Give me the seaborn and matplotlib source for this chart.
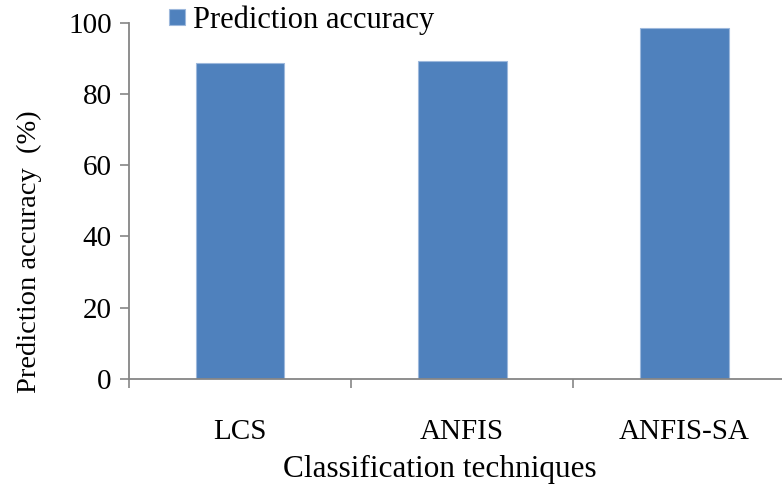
import seaborn as sns
import matplotlib.pyplot as plt
import pandas as pd

# values
techniques = ["LCS", "ANFIS", "ANFIS-SA"]
accuracy = [88.6, 89.2, 98.4]
y_ticks = [0, 20, 40, 60, 80, 100]

df = pd.DataFrame({"technique": techniques, "accuracy": accuracy})

sns.set_style("white")
plt.rcParams["font.family"] = ["Liberation Serif", "DejaVu Serif"]
plt.rcParams["text.color"] = "black"
plt.rcParams["axes.labelcolor"] = "black"
plt.rcParams["xtick.labelcolor"] = "black"
plt.rcParams["ytick.labelcolor"] = "black"

grey = "#868686"
fig = plt.figure(figsize=(7.82, 4.87), dpi=100)
ax = fig.add_axes([0.165, 0.2218, 0.852, 0.7316])

sns.barplot(data=df, x="technique", y="accuracy", color="#4F81BD",
            saturation=1, width=0.4, edgecolor="#9db8dc", linewidth=0.8,
            label="Prediction accuracy", ax=ax)
if ax.get_legend() is not None:
    ax.get_legend().remove()

ax.set_xlim(-0.5, 2.5)
ax.set_ylim(0, 100)
ax.set_yticks(y_ticks)
ax.set_xticks([-0.5, 0.5, 1.5, 2.5], minor=True)

sns.despine(ax=ax)
for side in ["left", "bottom"]:
    ax.spines[side].set_color(grey)
    ax.spines[side].set_linewidth(1.3)

ax.tick_params(axis="y", direction="out", length=6.5, width=1.2, color=grey,
               pad=6, labelsize=21, left=True)
ax.tick_params(axis="x", which="major", length=0, pad=29, labelsize=21)
ax.tick_params(axis="x", which="minor", direction="out", length=6.5,
               width=1.2, color=grey, bottom=True)

ax.set_ylabel("Prediction accuracy  (%)", fontsize=20.5)
ax.yaxis.set_label_coords(-0.13, 0.356)
ax.set_xlabel("Classification techniques", fontsize=22.5)
ax.xaxis.set_label_coords(0.467, -0.214)

handles, labels = ax.get_legend_handles_labels()
fig.legend(handles, labels, loc="center left",
           bbox_to_anchor=(169 / 782, 1 - 20 / 487), frameon=False,
           fontsize=22, handlelength=0.52, handleheight=0.46,
           handletextpad=0.26, borderpad=0, borderaxespad=0)

fig.savefig("out.png", dpi=100)
plt.close(fig)
